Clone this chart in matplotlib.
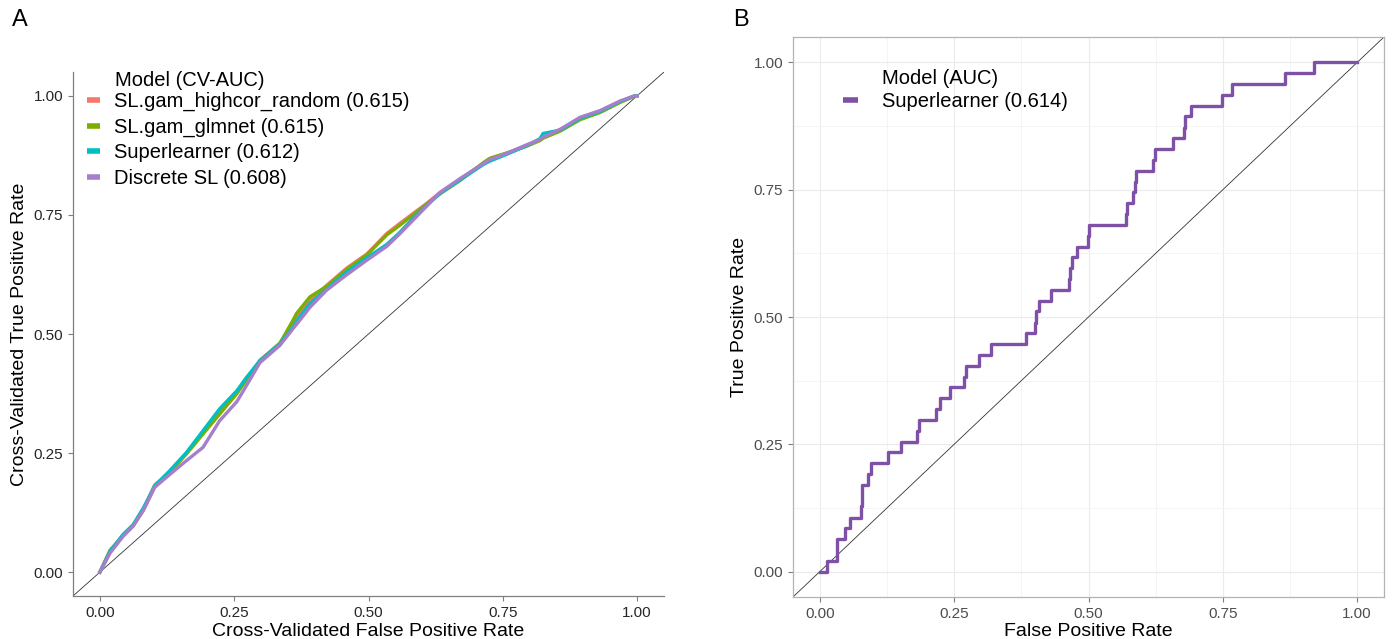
import matplotlib
matplotlib.use("Agg")
import matplotlib.pyplot as plt
from matplotlib.ticker import MultipleLocator

plt.rcParams['font.family'] = ['Liberation Sans', 'DejaVu Sans']

# ---- panel A: cross-validated ROC curves ----
cv_fpr = [0, 0.019, 0.043, 0.062, 0.081, 0.102, 0.130, 0.161, 0.192, 0.223, 0.255, 0.273,
          0.298, 0.335, 0.360, 0.366, 0.391, 0.422, 0.459, 0.497, 0.534, 0.558, 0.583, 0.608,
          0.633, 0.670, 0.714, 0.726, 0.757, 0.794, 0.819, 0.825, 0.857, 0.894, 0.931, 0.968,
          0.993, 1.0]
tpr_highcor = [0, 0.045, 0.077, 0.098, 0.132, 0.183, 0.210, 0.250, 0.292, 0.334, 0.376, 0.405,
               0.445, 0.481, 0.522, 0.536, 0.570, 0.602, 0.638, 0.668, 0.711, 0.732, 0.753, 0.774,
               0.797, 0.824, 0.858, 0.866, 0.879, 0.896, 0.907, 0.912, 0.927, 0.952, 0.966, 0.987,
               0.999, 1.0]
tpr_glmnet = [0, 0.046, 0.076, 0.097, 0.130, 0.180, 0.209, 0.248, 0.290, 0.332, 0.375, 0.404,
              0.443, 0.480, 0.530, 0.543, 0.578, 0.600, 0.635, 0.666, 0.708, 0.728, 0.750, 0.772,
              0.794, 0.822, 0.860, 0.869, 0.880, 0.894, 0.906, 0.911, 0.926, 0.950, 0.965, 0.986,
              0.998, 1.0]
tpr_sl = [0, 0.044, 0.079, 0.100, 0.135, 0.181, 0.213, 0.251, 0.297, 0.343, 0.381, 0.409,
          0.444, 0.479, 0.515, 0.527, 0.564, 0.594, 0.630, 0.660, 0.688, 0.713, 0.743, 0.770,
          0.795, 0.823, 0.856, 0.863, 0.877, 0.895, 0.910, 0.921, 0.928, 0.953, 0.967, 0.988,
          0.999, 1.0]
tpr_discrete = [0, 0.040, 0.075, 0.097, 0.130, 0.178, 0.205, 0.234, 0.262, 0.318, 0.358, 0.392,
                0.440, 0.476, 0.512, 0.520, 0.556, 0.592, 0.624, 0.655, 0.684, 0.710, 0.739, 0.768,
                0.797, 0.826, 0.858, 0.866, 0.879, 0.897, 0.908, 0.913, 0.930, 0.955, 0.969, 0.989,
                0.999, 1.0]

cv_labels = ["SL.gam_highcor_random (0.615)", "SL.gam_glmnet (0.615)",
             "Superlearner (0.612)", "Discrete SL (0.608)"]
cv_colors = ["#F8766D", "#7CAE00", "#00BFC4", "#A67FCB"]

# ---- panel B: test-set ROC (step curve) ----
test_fpr = [0, 0.014, 0.032, 0.046, 0.057, 0.076, 0.078, 0.090, 0.095, 0.127, 0.151, 0.181,
            0.185, 0.217, 0.224, 0.242, 0.268, 0.272, 0.296, 0.318, 0.384, 0.400, 0.403, 0.407,
            0.431, 0.463, 0.466, 0.469, 0.478, 0.499, 0.500, 0.569, 0.572, 0.583, 0.586, 0.588,
            0.620, 0.624, 0.657, 0.677, 0.679, 0.691, 0.748, 0.768, 0.866, 0.920, 1.0]
test_tpr = [0, 0.021, 0.064, 0.085, 0.106, 0.128, 0.170, 0.191, 0.213, 0.234, 0.255, 0.277,
            0.298, 0.319, 0.340, 0.362, 0.383, 0.404, 0.426, 0.447, 0.468, 0.489, 0.511, 0.532,
            0.553, 0.574, 0.596, 0.617, 0.638, 0.660, 0.681, 0.702, 0.723, 0.745, 0.766, 0.787,
            0.809, 0.830, 0.851, 0.872, 0.894, 0.915, 0.936, 0.957, 0.979, 1.0, 1.0]

ticks = [0, 0.25, 0.5, 0.75, 1.0]
tick_labels = ["0.00", "0.25", "0.50", "0.75", "1.00"]

W, H = 1393, 639
fig = plt.figure(figsize=(W / 100, H / 100), dpi=100)


def px_axes(l, t, r, b):
    return fig.add_axes([l / W, 1 - b / H, (r - l) / W, (b - t) / H])


def style_axis(ax, labelcolor):
    ax.set_xlim(-0.05, 1.05)
    ax.set_ylim(-0.05, 1.05)
    ax.set_xticks(ticks)
    ax.set_xticklabels(tick_labels)
    ax.set_yticks(ticks)
    ax.set_yticklabels(tick_labels)
    ax.tick_params(labelsize=11, labelcolor=labelcolor, color="#7F7F7F", length=3.5, width=0.8)


# panel A
axA = px_axes(73, 72, 664, 596)
style_axis(axA, "#262626")
for s in ["top", "right"]:
    axA.spines[s].set_visible(False)
for s in ["left", "bottom"]:
    axA.spines[s].set_color("#7F7F7F")
    axA.spines[s].set_linewidth(0.9)
axA.axline((0, 0), (1, 1), color="#333333", lw=0.6, zorder=1)
for tpr, lab, col in zip([tpr_highcor, tpr_glmnet, tpr_sl, tpr_discrete], cv_labels, cv_colors):
    axA.plot(cv_fpr, tpr, color=col, lw=2.4, label=lab, zorder=2)
axA.set_xlabel("Cross-Validated False Positive Rate", fontsize=14, labelpad=2)
axA.set_ylabel("Cross-Validated True Positive Rate", fontsize=14, labelpad=4)
legA = axA.legend(loc="upper left", bbox_to_anchor=(87 / W, 1 - 92 / H), bbox_transform=fig.transFigure,
                  frameon=False, fontsize=14.5, handlelength=0.65, handletextpad=0.7,
                  labelspacing=0.32, borderpad=0, borderaxespad=0)
for h in legA.get_lines():
    h.set_linewidth(4)
    h.set_solid_capstyle("butt")
fig.text(115 / W, 1 - 80 / H, "Model (CV-AUC)", fontsize=14.5, va="center", ha="left")

# panel B
axB = px_axes(793, 37, 1384, 597)
style_axis(axB, "#4D4D4D")
axB.xaxis.set_minor_locator(MultipleLocator(0.125))
axB.yaxis.set_minor_locator(MultipleLocator(0.125))
axB.tick_params(which="minor", length=0)
axB.grid(True, which="major", color="#EBEBEB", lw=0.8)
axB.grid(True, which="minor", color="#F3F3F3", lw=0.6)
axB.set_axisbelow(True)
for s in axB.spines.values():
    s.set_color("#B3B3B3")
    s.set_linewidth(0.9)
axB.axline((0, 0), (1, 1), color="#333333", lw=0.6, zorder=1)
axB.plot(test_fpr, test_tpr, drawstyle="steps-post", color="#7E50A6", lw=2.4,
         label="Superlearner (0.614)", zorder=2)
axB.set_xlabel("False Positive Rate", fontsize=14, labelpad=2)
axB.set_ylabel("True Positive Rate", fontsize=14, labelpad=4)
legB = axB.legend(loc="upper left", bbox_to_anchor=(843 / W, 1 - 92 / H), bbox_transform=fig.transFigure,
                  frameon=False, fontsize=14.5, handlelength=0.75, handletextpad=1.2,
                  borderpad=0, borderaxespad=0)
for h in legB.get_lines():
    h.set_linewidth(4)
    h.set_solid_capstyle("butt")
fig.text(882 / W, 1 - 79 / H, "Model (AUC)", fontsize=14.5, va="center", ha="left")

fig.text(12 / W, 1 - 20 / H, "A", fontsize=17, va="center", ha="left")
fig.text(733 / W, 1 - 20 / H, "B", fontsize=17, va="center", ha="left")

fig.savefig("out.png", dpi=100)
